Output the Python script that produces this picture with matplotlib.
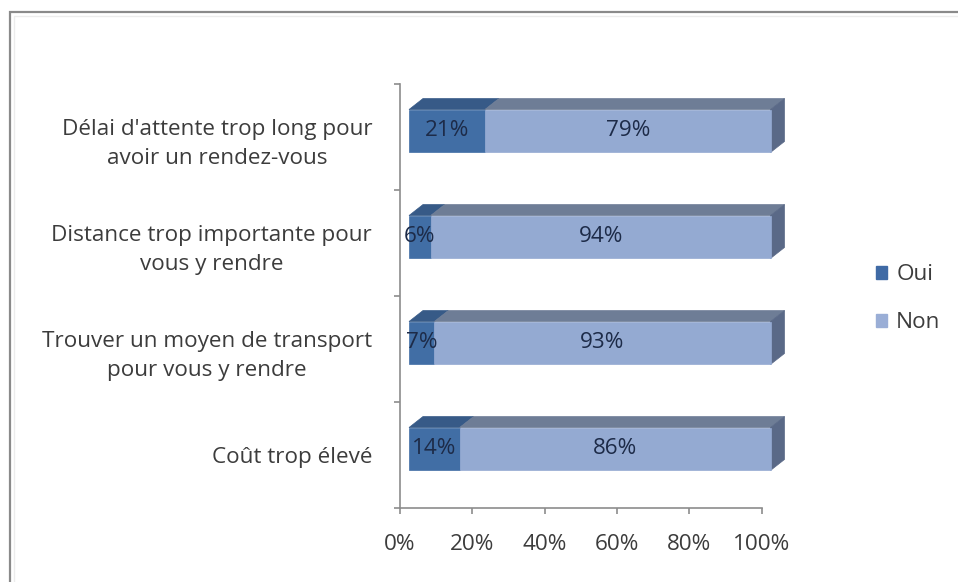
import matplotlib
matplotlib.use("Agg")
import matplotlib.pyplot as plt
from matplotlib.patches import Polygon, Rectangle, Patch

# Data (top to bottom as listed on the chart)
categories = [
    "Délai d'attente trop long pour\navoir un rendez-vous",
    "Distance trop importante pour\nvous y rendre",
    "Trouver un moyen de transport\npour vous y rendre",
    "Coût trop élevé",
]
oui = [21, 6, 7, 14]
non = [79, 94, 93, 86]
series_names = ["Oui", "Non"]
xtick_values = [0, 20, 40, 60, 80, 100]
xtick_labels = ["0%", "20%", "40%", "60%", "80%", "100%"]

# Styling
FONT = "Open Sans"
TEXT_COL = "#3c3c3c"
LABEL_COL = "#1d2b48"
AXIS_COL = "#8c8c8c"
front_cols = ["#416ea5", "#94aad2"]
top_cols = ["#375a87", "#6e7d96"]
side_col = "#5a6987"
legend_cols = ["#3f6aa5", "#9aaed6"]
FS = 16.2

W, H, DPI = 958, 582, 100
fig = plt.figure(figsize=(W / DPI, H / DPI), dpi=DPI)
fig.patch.set_facecolor("white")

# Outer chart frame (left and top edges visible)
fig.patches.append(Rectangle((10 / W, -0.1), 1.2, (H - 12) / H + 0.1,
                             transform=fig.transFigure, fill=False,
                             edgecolor="#8a8a8a", linewidth=1.6))
fig.patches.append(Rectangle((14 / W, -0.1), 1.2, (H - 16) / H + 0.1,
                             transform=fig.transFigure, fill=False,
                             edgecolor="#ececec", linewidth=1.0))

ax_left, ax_right = 400 / W, 761.5 / W
ax_bottom, ax_top = (H - 508) / H, (H - 84) / H
ax = fig.add_axes([ax_left, ax_bottom, ax_right - ax_left, ax_top - ax_bottom])
ax.set_xlim(0, 100)
n = len(categories)
ax.set_ylim(-0.5, n - 0.5)

for s in ["top", "right"]:
    ax.spines[s].set_visible(False)
for s in ["left", "bottom"]:
    ax.spines[s].set_color(AXIS_COL)
    ax.spines[s].set_linewidth(1.2)

# Category labels on major ticks; boundary tick marks as minor ticks
ypos = [n - 1 - i for i in range(n)]
ax.set_yticks(ypos)
ax.set_yticklabels(categories, fontsize=FS, color=TEXT_COL, family=FONT,
                   linespacing=1.55)
for lab in ax.get_yticklabels():
    lab.set_multialignment("center")
ax.set_yticks([k - 0.5 for k in range(n + 1)], minor=True)
ax.tick_params(axis="y", which="major", length=0, pad=20)
ax.tick_params(axis="y", which="minor", length=4, color=AXIS_COL, width=1.2,
               direction="out")

ax.set_xticks(xtick_values)
ax.set_xticklabels(xtick_labels, fontsize=FS, color=TEXT_COL, family=FONT)
ax.tick_params(axis="x", length=4, color=AXIS_COL, width=1.2, pad=15,
               direction="out")

# Pixel-based offsets converted to data units
p0 = ax.transData.transform((0, 0))
p1 = ax.transData.transform((1, 1))
px_x = p1[0] - p0[0]
px_y = p1[1] - p0[1]
front_dx, front_dy = 9 / px_x, 6 / px_y
depth_dx, depth_dy = 14 / px_x, 11 / px_y
bar_h = 0.405

for i, y in enumerate(ypos):
    vals = [oui[i], non[i]]
    left = 0
    yb = y - bar_h / 2 + front_dy
    yt = y + bar_h / 2 + front_dy
    for k, v in enumerate(vals):
        x0 = left + front_dx
        x1 = left + v + front_dx
        # top face
        ax.add_patch(Polygon([(x0, yt), (x1, yt), (x1 + depth_dx, yt + depth_dy),
                              (x0 + depth_dx, yt + depth_dy)], closed=True,
                             facecolor=top_cols[k], edgecolor=top_cols[k],
                             linewidth=0.5, clip_on=False, zorder=2))
        # front face
        ax.add_patch(Rectangle((x0, yb), v, bar_h, facecolor=front_cols[k],
                               edgecolor=front_cols[k], linewidth=0.5,
                               clip_on=False, zorder=3))
        ax.text((x0 + x1) / 2, (yb + yt) / 2, f"{v}%", ha="center", va="center",
                fontsize=FS, color=LABEL_COL, family=FONT, zorder=5,
                clip_on=False)
        left += v
    # right side face
    xr = left + front_dx
    ax.add_patch(Polygon([(xr, yb), (xr, yt), (xr + depth_dx, yt + depth_dy),
                          (xr + depth_dx, yb + depth_dy)], closed=True,
                         facecolor=side_col, edgecolor=side_col, linewidth=0.5,
                         clip_on=False, zorder=2))

handles = [Patch(facecolor=c, edgecolor=c) for c in legend_cols]
fig.legend(handles, series_names, loc="center left",
           bbox_to_anchor=(876 / W, 1 - 299 / H), frameon=False,
           prop={"family": FONT, "size": FS}, labelcolor=TEXT_COL,
           handlelength=0.5, handleheight=0.5, handletextpad=0.4,
           labelspacing=1.2, borderpad=0, borderaxespad=0)

fig.savefig("out.png", dpi=DPI)
